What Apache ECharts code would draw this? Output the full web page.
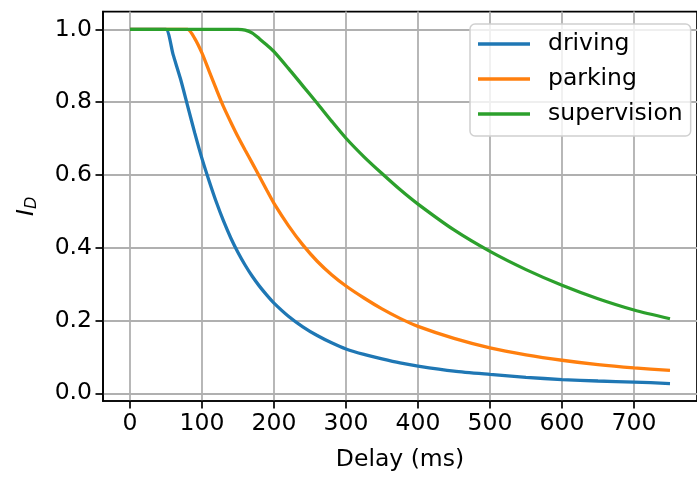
<!DOCTYPE html>
<html>
<head>
<meta charset="utf-8">
<script src="https://cdn.jsdelivr.net/npm/echarts@6/dist/echarts.min.js"></script>
<style>
  html, body { margin: 0; padding: 0; background: #fff; }
  #chart { width: 697px; height: 477px; }
</style>
</head>
<body>
<div id="chart"></div>
<script>
// delay (ms) sample points, shared by the three curves
const delays = [0, 40, 50, 60, 70, 80, 90, 100, 110, 120, 130, 140, 150, 160, 170, 180, 190, 200,
  220, 240, 260, 280, 300, 325, 350, 375, 400, 450, 500, 550, 600, 650, 700, 750]
const driving = [1, 1, 1, 0.93, 0.865, 0.79, 0.715, 0.645, 0.583, 0.525, 0.473, 0.427, 0.387, 0.352, 0.321, 0.294, 0.27, 0.248,
  0.212, 0.183, 0.159, 0.139, 0.122, 0.107, 0.095, 0.084, 0.075, 0.061, 0.052, 0.044, 0.038, 0.034, 0.031, 0.027]
const parking = [1, 1, 1, 1, 1, 1, 0.975, 0.935, 0.885, 0.835, 0.787, 0.745, 0.705, 0.668, 0.632, 0.595, 0.558, 0.522,
  0.461, 0.408, 0.363, 0.326, 0.295, 0.262, 0.232, 0.206, 0.184, 0.151, 0.125, 0.106, 0.091, 0.079, 0.07, 0.063]
const supervision = [1, 1, 1, 1, 1, 1, 1, 1, 1, 1, 1, 1, 1, 0.998, 0.99, 0.974, 0.957, 0.939,
  0.893, 0.845, 0.797, 0.748, 0.701, 0.65, 0.604, 0.56, 0.52, 0.449, 0.39, 0.34, 0.297, 0.26, 0.229, 0.205]
const seriesNames = ['driving', 'parking', 'supervision']
const xTicks = [0, 100, 200, 300, 400, 500, 600, 700]
const yTicks = [0, 0.2, 0.4, 0.6, 0.8, 1.0]

const font = 'DejaVu Sans'
const colors = ['#1f77b4', '#ff7f0e', '#2ca02c']

function pairs(ys) {
  return delays.map((d, i) => [d, ys[i]])
}

function lineSeries(i, ys) {
  return {
    name: seriesNames[i],
    type: 'line',
    showSymbol: false,
    smooth: 0.25,
    data: pairs(ys),
    lineStyle: {width: 3.3}
  }
}

let myChart = echarts.init(document.getElementById('chart'), null, {renderer: 'canvas'})
myChart.setOption({
  animation: false,
  backgroundColor: '#fff',
  color: colors,
  textStyle: {fontFamily: font},
  grid: {
    left: 103,
    top: 11.6,
    right: -10.6,
    bottom: 73.3,
    show: true,
    borderColor: '#000',
    borderWidth: 1.7
  },
  legend: {
    orient: 'vertical',
    left: 470,
    top: 24,
    padding: [7, 8, 9, 8],
    itemWidth: 52,
    itemHeight: 3.4,
    itemGap: 9,
    icon: 'rect',
    backgroundColor: 'rgba(255,255,255,0.8)',
    borderColor: '#d0d0d0',
    borderWidth: 1.5,
    borderRadius: 5,
    textStyle: {fontFamily: font, fontSize: 23.5, color: '#000', lineHeight: 26, padding: [0, 0, 0, 13]},
    data: seriesNames
  },
  xAxis: {
    type: 'value',
    min: -37.5,
    max: 787.5,
    name: 'Delay (ms)',
    nameLocation: 'middle',
    nameGap: 47,
    nameTextStyle: {fontFamily: font, fontSize: 23.5, color: '#000'},
    axisLine: {show: true, onZero: false, lineStyle: {color: '#000', width: 1.7}},
    axisTick: {show: true, length: 7.5, lineStyle: {color: '#000', width: 1.7}, customValues: xTicks},
    axisLabel: {fontFamily: font, fontSize: 23.5, color: '#000', margin: 11, customValues: xTicks},
    splitLine: {show: true, lineStyle: {color: '#b0b0b0', width: 1.8}}
  },
  yAxis: {
    type: 'value',
    min: -0.021,
    max: 1.049,
    name: '{i|I}{d|D}',
    nameLocation: 'middle',
    nameGap: 63,
    nameTextStyle: {
      color: '#000',
      rich: {
        i: {fontFamily: font, fontSize: 23.5, fontStyle: 'italic', color: '#000'},
        d: {fontFamily: font, fontSize: 16, fontStyle: 'italic', color: '#000', verticalAlign: 'bottom', padding: [10, 0, 0, 0]}
      }
    },
    axisLine: {show: true, onZero: false, lineStyle: {color: '#000', width: 1.7}},
    axisTick: {show: true, length: 7.5, lineStyle: {color: '#000', width: 1.7}, customValues: yTicks},
    axisLabel: {
      fontFamily: font, fontSize: 23.5, color: '#000', margin: 11, customValues: yTicks,
      formatter: (v) => v.toFixed(1)
    },
    splitLine: {show: true, lineStyle: {color: '#b0b0b0', width: 1.8}}
  },
  series: [
    lineSeries(0, driving),
    lineSeries(1, parking),
    lineSeries(2, supervision)
  ]
})
</script>
</body>
</html>
